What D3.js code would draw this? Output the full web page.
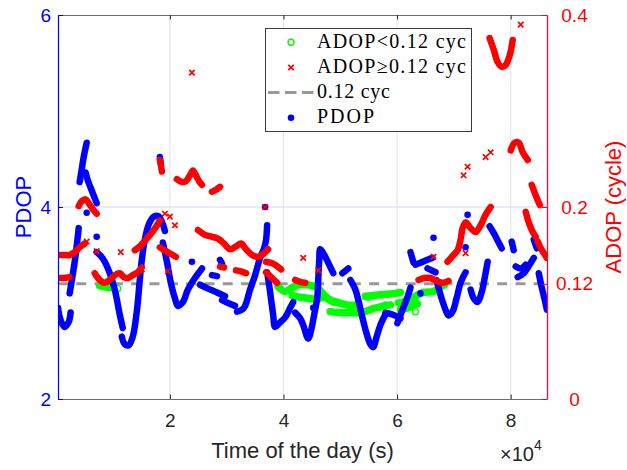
<!DOCTYPE html>
<html>
<head>
<meta charset="utf-8">
<script src="https://cdn.jsdelivr.net/npm/d3@7"></script>
<style>
  body { margin: 0; background: #ffffff; }
  svg { display: block; }
</style>
</head>
<body>
<svg id="chart" width="627" height="470"></svg>
<script>
// ---------------- data ----------------
const xTicks = [20000, 40000, 60000, 80000];
const xTickLabels = ["2", "4", "6", "8"];
const pdopTicks = [2, 4, 6];
const pdopTickLabels = ["2", "4", "6"];
const adopTicks = [0, 0.12, 0.2, 0.4];
const adopTickLabels = ["0", "0.12", "0.2", "0.4"];
const adopThreshold = 0.12;
const legendLabels = ["ADOP<0.12 cyc", "ADOP\u22650.12 cyc", "0.12 cyc", "PDOP"];

// PDOP: dense runs of epochs, [time of day (s), PDOP]
const pdopRuns = [
  [[300,2.95],[760,2.82],[1470,2.75],[2170,2.80],[2520,2.90]],
  [[2350,3.10],[2880,3.29],[3410,3.50],[3760,3.68],[3940,3.78]],
  [[4110,4.26],[4470,4.39],[4820,4.52],[5350,4.67]],
  [[5170,4.36],[5530,4.28],[6050,4.20],[6580,4.12],[7110,4.04]],
  [[7110,3.53],[7820,3.49],[8530,3.43],[9410,3.31],[10290,3.14],[11170,2.88],[11700,2.74]],
  [[11530,2.65],[12060,2.57],[12760,2.56],[13470,2.65],[14170,2.91],[14700,3.24],[15060,3.45],
   [15590,3.66],[16290,3.82],[17170,3.90],[18060,3.90],[18760,3.82],[19120,3.75]],
  [[18230,4.52],[18410,4.45]],
  [[18760,3.63],[19470,3.43],[20170,3.21],[20880,3.05],[21410,2.97],[22290,3.01],[23180,3.14],
   [24410,3.26],[25650,3.36]],
  [[25290,3.19],[26710,3.15],[28290,3.11],[29710,3.07]],
  [[27410,3.29],[28290,3.28]],
  [[28820,3.45],[29180,3.41]],
  [[29180,3.03],[30240,3.00],[31470,2.97]],
  [[31820,2.91],[32710,2.93],[33240,2.97],[34120,3.14],[35000,3.29],[35880,3.47],[36590,3.57],
   [36940,3.66],[37120,3.81]],
  [[37120,3.32],[37470,3.19],[37830,3.03],[38180,2.88],[38530,2.75],[39240,2.79],[40300,2.85],
   [41180,2.95],[41710,3.01]],
  [[42060,2.90],[42940,2.84],[43470,2.77],[44360,2.63],[44880,2.72],[45410,2.88],[45940,3.05],
   [46120,3.24],[46300,3.45],[46470,3.56],[47180,3.50],[47880,3.42],[48770,3.31]],
  [[50360,3.31],[51410,3.36]],
  [[51770,3.24],[52650,3.14],[53180,3.03],[53890,2.85],[54590,2.69],[55300,2.57],[55830,2.54],
   [56360,2.64],[57060,2.77],[57940,2.88]],
  [[57940,2.90],[59180,2.88],[60590,2.84]],
  [[60060,2.79],[60950,2.93],[61830,3.06],[62360,3.16]],
  [[62360,3.53],[62890,3.42]],
  [[63240,3.40],[64120,3.42],[65360,3.45],[66240,3.47]],
  [[65360,3.36],[66770,3.32]],
  [[66950,3.24],[67300,3.16],[67830,3.05],[68530,2.93],[69060,2.87],[69770,2.91],[70480,3.05],
   [71180,3.21],[72060,3.32]],
  [[72950,3.14],[73480,3.05],[74180,3.01],[74890,3.11],[75420,3.26],[75950,3.43]],
  [[76300,3.80],[77010,3.73],[77710,3.65],[78420,3.57]],
  [[80180,3.64],[80540,3.55]],
  [[80890,3.38],[81770,3.36],[82650,3.40]],
  [[81240,3.27],[82300,3.31],[83540,3.42],[84070,3.47]],
  [[84070,3.66],[84600,3.57]],
  [[84950,3.31],[85480,3.16],[86010,3.03],[86370,2.93]]
];
// PDOP: isolated epochs
const pdopSingles = [
  [5350,3.94],[7110,3.69],[23880,3.43],[36770,4.00],[45240,2.95],
  [64120,3.10],[66420,3.68],[72060,3.58],[72420,3.92]
];

// ADOP >= 0.12 cycle: dense runs, [time of day (s), ADOP (cycle)]
const adopHighRuns = [
  [[300,0.150],[1290,0.150],[2350,0.150],[3230,0.153],[4110,0.158],[5000,0.162]],
  [[300,0.126],[1290,0.126],[2350,0.127]],
  [[3940,0.201],[4470,0.206],[5170,0.208],[5700,0.204],[6410,0.198],[7110,0.193]],
  [[6760,0.131],[7640,0.124],[8530,0.121],[9410,0.124],[10290,0.129],[11170,0.131],[11880,0.127],
   [12590,0.126],[13470,0.129],[14350,0.132],[15060,0.137]],
  [[13820,0.155],[14700,0.159],[15760,0.166],[16640,0.172],[17530,0.179],[18230,0.186]],
  [[18230,0.158],[19290,0.154],[20530,0.150],[21060,0.148]],
  [[18230,0.249],[18410,0.244],[18590,0.237]],
  [[21230,0.229],[22120,0.226],[22820,0.227],[23530,0.233],[24060,0.238],[24590,0.233],
   [25120,0.227],[25650,0.223]],
  [[27410,0.216],[28120,0.218],[28820,0.221]],
  [[24940,0.176],[26180,0.171],[27410,0.169],[28470,0.167],[29530,0.162],[30590,0.156],
   [31650,0.159],[32530,0.162],[33410,0.156],[34470,0.150],[35530,0.148],[36410,0.151],[37300,0.156]],
  [[28820,0.138],[29530,0.137]],
  [[31650,0.134],[32530,0.133],[33410,0.131]],
  [[36940,0.143],[38180,0.141],[39590,0.135]],
  [[36940,0.132],[37830,0.127],[38880,0.121]],
  [[42060,0.124],[42940,0.122],[43830,0.121]],
  [[63770,0.124],[64830,0.126],[65890,0.126],[66950,0.123],[68010,0.121],[69060,0.123]],
  [[68890,0.143],[69770,0.149],[70650,0.155],[71180,0.166],[71540,0.178],[72060,0.184],
   [72950,0.178],[73830,0.174],[74710,0.181],[75590,0.192],[76480,0.200]],
  [[76300,0.376],[77010,0.364],[77710,0.351],[78420,0.346],[79120,0.348],[79830,0.358],[80360,0.374]],
  [[80010,0.259],[80710,0.267],[81420,0.267],[82120,0.257],[83010,0.249]],
  [[83710,0.223],[84420,0.212],[85130,0.202]],
  [[82650,0.195],[83180,0.184],[83890,0.174],[84420,0.169]],
  [[84770,0.164],[85300,0.157],[85830,0.152],[86370,0.147]]
];
// ADOP >= 0.12 cycle: isolated epochs
const adopHighSingles = [
  [5350,0.164],[7110,0.154],[11350,0.153],[15060,0.135],[19650,0.133],[19120,0.193],
  [20000,0.190],[20880,0.181],[23880,0.340],[36770,0.200],[43470,0.147],[46120,0.134],
  [66420,0.148],[72060,0.152],[71710,0.233],[72420,0.242],[75590,0.252],[76480,0.257],
  [81770,0.390]
];

// ADOP < 0.12 cycle: dense runs
const adopLowRuns = [
  [[7640,0.118],[8530,0.117],[9410,0.116],[9940,0.117]],
  [[39060,0.117],[40300,0.112],[41530,0.116],[42590,0.119],[43830,0.119],[45060,0.118],
   [46120,0.115],[47180,0.108],[48240,0.103],[49300,0.101]],
  [[41530,0.108],[42940,0.106],[44360,0.105],[45770,0.104],[47000,0.106],[48770,0.101]],
  [[49300,0.101],[51240,0.098],[53000,0.098]],
  [[48240,0.091],[50000,0.090],[51770,0.090],[53890,0.090],[55650,0.094],[57060,0.096],[58830,0.098]],
  [[54410,0.107],[56180,0.108],[57940,0.109],[59710,0.110],[60590,0.111]],
  [[60240,0.100],[62000,0.103],[63240,0.107],[64650,0.111],[66420,0.112],[67650,0.117],[68360,0.119]],
  [[60590,0.093],[62000,0.095],[63420,0.099]]
];
// ADOP < 0.12 cycle: isolated epochs
const adopLowSingles = [
  [10820,0.115],[53180,0.101],[54940,0.106],[57940,0.098],[62710,0.106],[63240,0.091],[63590,0.099]
];

// ---------------- colours & layout ----------------
const BLUE = "#0000ff", RED = "#ff0000", GREEN = "#00ff00", GREY = "#999999", INK = "#262626";
const plot = { left: 58, right: 547, top: 15, bottom: 399 };

const svg = d3.select("#chart");
svg.append("rect").attr("width", 627).attr("height", 470).attr("fill", "#ffffff");

const x = d3.scaleLinear().domain([300, 86400]).range([plot.left, plot.right]);
const yL = d3.scaleLinear().domain([2, 6]).range([plot.bottom, plot.top]);
const yR = d3.scaleLinear().domain([0, 0.4]).range([plot.bottom, plot.top]);

svg.append("clipPath").attr("id", "plotClip")
  .append("rect")
  .attr("x", plot.left).attr("y", plot.top)
  .attr("width", plot.right - plot.left).attr("height", plot.bottom - plot.top);

// grid
const grid = svg.append("g");
grid.selectAll("line.vg").data(xTicks).join("line")
  .attr("x1", d => x(d)).attr("x2", d => x(d))
  .attr("y1", plot.top).attr("y2", plot.bottom)
  .attr("stroke", "#e3e3e3").attr("stroke-width", 1);
grid.selectAll("line.hg").data(pdopTicks.filter(d => d > 2 && d < 6)).join("line")
  .attr("x1", plot.left).attr("x2", plot.right)
  .attr("y1", d => yL(d)).attr("y2", d => yL(d))
  .attr("stroke", "#d6d6fa").attr("stroke-width", 1);

const data = svg.append("g").attr("clip-path", "url(#plotClip)");

// threshold line
data.append("line")
  .attr("x1", plot.left).attr("x2", plot.right)
  .attr("y1", yR(adopThreshold)).attr("y2", yR(adopThreshold))
  .attr("stroke", GREY).attr("stroke-width", 3).attr("stroke-dasharray", "10,8.3");

const lineL = d3.line().x(d => x(d[0])).y(d => yL(d[1])).curve(d3.curveCatmullRom.alpha(0.5));
const lineR = d3.line().x(d => x(d[0])).y(d => yR(d[1])).curve(d3.curveCatmullRom.alpha(0.5));

function runs(g, arr, gen, colour, width) {
  g.selectAll(null).data(arr).join("path")
    .attr("d", gen)
    .attr("fill", "none").attr("stroke", colour).attr("stroke-width", width)
    .attr("stroke-linecap", "round").attr("stroke-linejoin", "round");
}
function crossPath(cx, cy, s) {
  return `M${cx - s},${cy - s}L${cx + s},${cy + s}M${cx - s},${cy + s}L${cx + s},${cy - s}`;
}

// ADOP < 0.12 (green circles)
const gLow = data.append("g");
runs(gLow, adopLowRuns, lineR, GREEN, 7.5);
gLow.selectAll("circle").data(adopLowSingles).join("circle")
  .attr("cx", d => x(d[0])).attr("cy", d => yR(d[1])).attr("r", 3)
  .attr("fill", "none").attr("stroke", GREEN).attr("stroke-width", 1.4);

// PDOP (blue dots)
const gP = data.append("g");
runs(gP, pdopRuns, lineL, BLUE, 6.5);
gP.selectAll("circle").data(pdopSingles).join("circle")
  .attr("cx", d => x(d[0])).attr("cy", d => yL(d[1])).attr("r", 3.3)
  .attr("fill", BLUE);

// ADOP >= 0.12 (red crosses)
const gHigh = data.append("g");
runs(gHigh, adopHighRuns, lineR, RED, 6.5);
gHigh.selectAll("path.x").data(adopHighSingles).join("path")
  .attr("class", "x")
  .attr("d", d => crossPath(x(d[0]), yR(d[1]), 2.7))
  .attr("stroke", RED).attr("stroke-width", 1.7).attr("fill", "none");

// ---------------- axes ----------------
const tickFont = "'Liberation Sans', Arial, Helvetica, sans-serif";

const axB = svg.append("g").attr("transform", `translate(0,${plot.bottom})`)
  .call(d3.axisBottom(x).tickValues(xTicks).tickFormat((d, i) => xTickLabels[i])
    .tickSizeInner(-4.5).tickSizeOuter(0).tickPadding(15));
const axT = svg.append("g").attr("transform", `translate(0,${plot.top})`)
  .call(d3.axisTop(x).tickValues(xTicks).tickFormat("")
    .tickSizeInner(-4.5).tickSizeOuter(0));
[axB, axT].forEach(a => {
  a.select(".domain").attr("stroke", "#6e6e6e").attr("stroke-width", 1.2);
  a.selectAll(".tick line").attr("stroke", INK);
});
axB.selectAll("text").attr("fill", INK).style("font-family", tickFont).style("font-size", "19px");

const axL = svg.append("g").attr("transform", `translate(${plot.left},0)`)
  .call(d3.axisLeft(yL).tickValues(pdopTicks).tickFormat((d, i) => pdopTickLabels[i])
    .tickSizeInner(-5).tickSizeOuter(0).tickPadding(7));
axL.select(".domain").attr("stroke", BLUE).attr("stroke-width", 1.2);
axL.selectAll(".tick line").attr("stroke", BLUE);
axL.selectAll("text").attr("fill", BLUE).style("font-family", tickFont).style("font-size", "19px");

const axR = svg.append("g").attr("transform", `translate(${plot.right},0)`)
  .call(d3.axisRight(yR).tickValues(adopTicks).tickFormat((d, i) => adopTickLabels[i])
    .tickSizeInner(-5).tickSizeOuter(0).tickPadding(8));
axR.select(".domain").attr("stroke", "#b8245c").attr("stroke-width", 1.4);
axR.selectAll(".tick line").attr("stroke", RED);
axR.selectAll("text").attr("fill", RED).attr("text-anchor", "middle").attr("x", 27.5)
  .style("font-family", tickFont).style("font-size", "19px");

// exponent of the time axis
const expo = svg.append("text").attr("x", 500).attr("y", 461).attr("fill", INK)
  .style("font-family", tickFont).style("font-size", "20px");
expo.append("tspan").text("\u00d710");
expo.append("tspan").attr("dy", -11).style("font-size", "14px").text("4");

// axis titles
svg.append("text").attr("x", (plot.left + plot.right) / 2).attr("y", 458)
  .attr("text-anchor", "middle").attr("fill", INK)
  .style("font-family", tickFont).style("font-size", "22px")
  .text("Time of the day (s)");
svg.append("text").attr("transform", `translate(31,${(plot.top + plot.bottom) / 2}) rotate(-90)`)
  .attr("text-anchor", "middle").attr("fill", BLUE)
  .style("font-family", tickFont).style("font-size", "22px")
  .text("PDOP");
svg.append("text").attr("transform", `translate(621,${(plot.top + plot.bottom) / 2}) rotate(-90)`)
  .attr("text-anchor", "middle").attr("fill", RED)
  .style("font-family", tickFont).style("font-size", "22px")
  .text("ADOP (cycle)");

// ---------------- legend ----------------
const lg = svg.append("g");
lg.append("rect").attr("x", 265.5).attr("y", 28.5).attr("width", 206).attr("height", 103)
  .attr("fill", "#ffffff").attr("stroke", "#3a3a3a").attr("stroke-width", 1);
const rowY = [42.3, 67.5, 92.6, 117.7];
const textLen = [149, 149, 73, 57];
const mx = 291;
lg.append("circle").attr("cx", mx).attr("cy", rowY[0]).attr("r", 3)
  .attr("fill", "none").attr("stroke", GREEN).attr("stroke-width", 1.4);
lg.append("path").attr("d", crossPath(mx, rowY[1], 2.7))
  .attr("stroke", RED).attr("stroke-width", 1.7);
lg.append("line").attr("x1", 268).attr("x2", 314).attr("y1", rowY[2]).attr("y2", rowY[2])
  .attr("stroke", GREY).attr("stroke-width", 3).attr("stroke-dasharray", "11.5,5.5");
lg.append("circle").attr("cx", mx).attr("cy", rowY[3]).attr("r", 3.3).attr("fill", BLUE);
lg.selectAll("text").data(legendLabels).join("text")
  .attr("x", 317).attr("y", (d, i) => rowY[i] + 5.2)
  .attr("textLength", (d, i) => textLen[i])
  .attr("fill", "#000000")
  .style("font-family", "'Liberation Serif', 'Times New Roman', serif").style("font-size", "20px")
  .text(d => d);
</script>
</body>
</html>
